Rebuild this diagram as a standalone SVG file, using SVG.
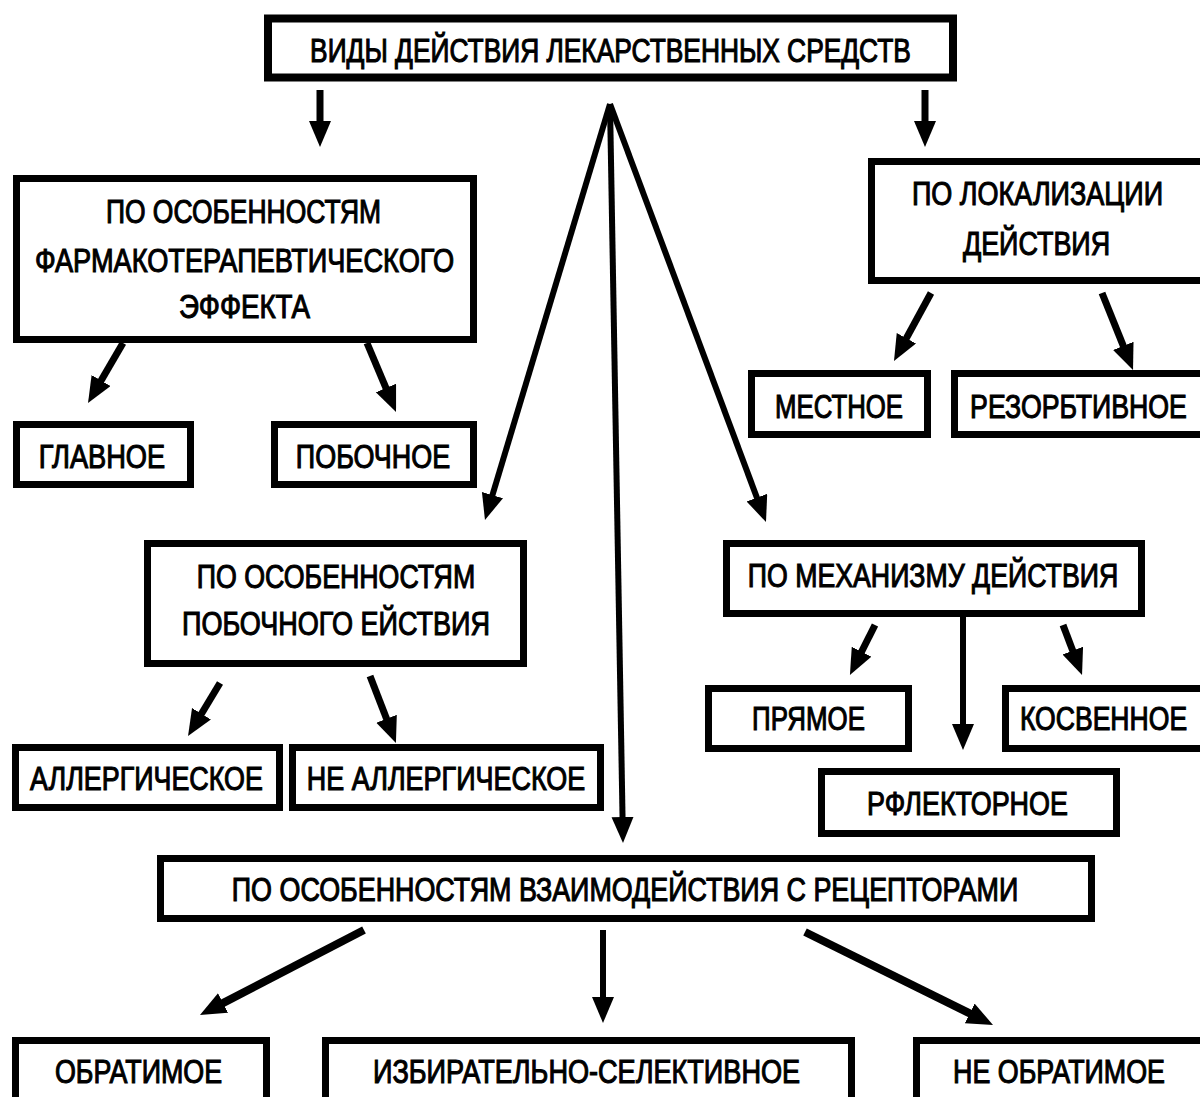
<svg xmlns="http://www.w3.org/2000/svg" width="1200" height="1097" viewBox="0 0 1200 1097">
<style>
.box{fill:#fff;stroke:#000;stroke-width:7}
.t{font-family:"Liberation Sans",Arial,sans-serif;font-size:33px;fill:#000;stroke:#000;stroke-width:1.1;text-anchor:middle}
.c{stroke:#000;stroke-width:7;fill:none;marker-end:url(#ah)}
.thin{stroke-width:6}
.thick{stroke-width:8}
</style>
<defs>
<marker id="ah" markerUnits="userSpaceOnUse" markerWidth="28" markerHeight="24" refX="4" refY="11" orient="auto">
<path d="M0,0 L26,11 L0,22 Z" fill="#000"/>
</marker>
</defs>
<rect width="1200" height="1097" fill="#fff"/>

<g id="connectors">
<line class="c" x1="320" y1="90" x2="320" y2="125"/>
<line class="c" x1="925" y1="90" x2="925" y2="125"/>
<line class="c" x1="123" y1="343" x2="99.1" y2="384"/>
<line class="c" x1="367" y1="343" x2="387.5" y2="391.7"/>
<line class="c" x1="931" y1="293" x2="904.5" y2="341.7"/>
<line class="c" x1="1102" y1="293" x2="1124.8" y2="349.6"/>
<line class="c thin" x1="610" y1="104" x2="491.3" y2="498.9"/>
<line class="c thin" x1="610" y1="104" x2="622.6" y2="821"/>
<line class="c thin" x1="610" y1="104" x2="758.3" y2="501.4"/>
<line class="c" x1="875" y1="625" x2="859.8" y2="655.3"/>
<line class="c thin" x1="963" y1="617" x2="963" y2="728"/>
<line class="c" x1="1063" y1="625" x2="1074.2" y2="654.4"/>
<line class="c" x1="220" y1="683" x2="199.4" y2="717.2"/>
<line class="c" x1="370" y1="676" x2="388" y2="722.5"/>
<line class="c thick" x1="364" y1="930" x2="219.5" y2="1004.9"/>
<line class="c thin" x1="603" y1="930" x2="603" y2="1001"/>
<line class="c thick" x1="805" y1="932" x2="973.3" y2="1015.2"/>
</g>

<g id="root">
<rect class="box" x="268" y="18.5" width="685" height="59" style="stroke-width:8"/>
<text class="t" transform="translate(610.5,62) scale(0.8,1)" textLength="751" lengthAdjust="spacingAndGlyphs">ВИДЫ ДЕЙСТВИЯ ЛЕКАРСТВЕННЫХ СРЕДСТВ</text>
</g>

<g id="pharma">
<rect class="box" x="16.5" y="178.5" width="457" height="161"/>
<text class="t" transform="translate(243.5,223) scale(0.8,1)" textLength="344" lengthAdjust="spacingAndGlyphs">ПО ОСОБЕННОСТЯМ</text>
<text class="t" transform="translate(244.5,272) scale(0.8,1)" textLength="524" lengthAdjust="spacingAndGlyphs">ФАРМАКОТЕРАПЕВТИЧЕСКОГО</text>
<text class="t" transform="translate(244.5,318) scale(0.8,1)" textLength="164" lengthAdjust="spacingAndGlyphs">ЭФФЕКТА</text>
</g>

<g id="main">
<rect class="box" x="16.5" y="424.5" width="174" height="60"/>
<text class="t" transform="translate(102,468) scale(0.8,1)" textLength="158" lengthAdjust="spacingAndGlyphs">ГЛАВНОЕ</text>
</g>

<g id="side">
<rect class="box" x="274.5" y="424.5" width="199" height="60"/>
<text class="t" transform="translate(373,468) scale(0.8,1)" textLength="193" lengthAdjust="spacingAndGlyphs">ПОБОЧНОЕ</text>
</g>

<g id="local">
<rect class="box" x="871.5" y="161.5" width="340" height="119"/>
<text class="t" transform="translate(1037.5,205) scale(0.8,1)" textLength="314" lengthAdjust="spacingAndGlyphs">ПО ЛОКАЛИЗАЦИИ</text>
<text class="t" transform="translate(1036.5,255) scale(0.8,1)" textLength="184" lengthAdjust="spacingAndGlyphs">ДЕЙСТВИЯ</text>
</g>

<g id="mestnoe">
<rect class="box" x="751.5" y="373.5" width="176" height="61"/>
<text class="t" transform="translate(839,418) scale(0.8,1)" textLength="160" lengthAdjust="spacingAndGlyphs">МЕСТНОЕ</text>
</g>

<g id="resorb">
<rect class="box" x="954.5" y="373.5" width="260" height="61"/>
<text class="t" transform="translate(1078.5,418) scale(0.8,1)" textLength="271" lengthAdjust="spacingAndGlyphs">РЕЗОРБТИВНОЕ</text>
</g>

<g id="sideeffect">
<rect class="box" x="147.5" y="543.5" width="376" height="120"/>
<text class="t" transform="translate(336,588) scale(0.8,1)" textLength="348" lengthAdjust="spacingAndGlyphs">ПО ОСОБЕННОСТЯМ</text>
<text class="t" transform="translate(336,635) scale(0.8,1)" textLength="385" lengthAdjust="spacingAndGlyphs">ПОБОЧНОГО ЕЙСТВИЯ</text>
</g>

<g id="allergic">
<rect class="box" x="15.5" y="747.5" width="264" height="60"/>
<text class="t" transform="translate(146.5,790) scale(0.8,1)" textLength="291" lengthAdjust="spacingAndGlyphs">АЛЛЕРГИЧЕСКОЕ</text>
</g>

<g id="nonallergic">
<rect class="box" x="292.5" y="747.5" width="308" height="60"/>
<text class="t" transform="translate(446,790) scale(0.8,1)" textLength="348" lengthAdjust="spacingAndGlyphs">НЕ АЛЛЕРГИЧЕСКОЕ</text>
</g>

<g id="mechanism">
<rect class="box" x="726.5" y="543.5" width="415" height="70"/>
<text class="t" transform="translate(933,587) scale(0.8,1)" textLength="463" lengthAdjust="spacingAndGlyphs">ПО МЕХАНИЗМУ ДЕЙСТВИЯ</text>
</g>

<g id="direct">
<rect class="box" x="708.5" y="688.5" width="200" height="60"/>
<text class="t" transform="translate(808.5,730) scale(0.8,1)" textLength="141" lengthAdjust="spacingAndGlyphs">ПРЯМОЕ</text>
</g>

<g id="indirect">
<rect class="box" x="1005.5" y="688.5" width="210" height="60"/>
<text class="t" transform="translate(1103.5,730) scale(0.8,1)" textLength="209" lengthAdjust="spacingAndGlyphs">КОСВЕННОЕ</text>
</g>

<g id="reflex">
<rect class="box" x="821.5" y="771.5" width="295" height="62"/>
<text class="t" transform="translate(967.5,815) scale(0.8,1)" textLength="251" lengthAdjust="spacingAndGlyphs">РФЛЕКТОРНОЕ</text>
</g>

<g id="receptors">
<rect class="box" x="160.5" y="858.5" width="931" height="60"/>
<text class="t" transform="translate(625,901) scale(0.8,1)" textLength="983" lengthAdjust="spacingAndGlyphs">ПО ОСОБЕННОСТЯМ ВЗАИМОДЕЙСТВИЯ С РЕЦЕПТОРАМИ</text>
</g>

<g id="reversible">
<rect class="box" x="15.5" y="1040.5" width="251" height="80"/>
<text class="t" transform="translate(138.5,1083) scale(0.8,1)" textLength="209" lengthAdjust="spacingAndGlyphs">ОБРАТИМОЕ</text>
</g>

<g id="selective">
<rect class="box" x="325.5" y="1040.5" width="526" height="80"/>
<text class="t" transform="translate(586.5,1083) scale(0.8,1)" textLength="534" lengthAdjust="spacingAndGlyphs">ИЗБИРАТЕЛЬНО-СЕЛЕКТИВНОЕ</text>
</g>

<g id="irreversible">
<rect class="box" x="916.5" y="1040.5" width="300" height="80"/>
<text class="t" transform="translate(1059,1083) scale(0.8,1)" textLength="265" lengthAdjust="spacingAndGlyphs">НЕ ОБРАТИМОЕ</text>
</g>
</svg>
